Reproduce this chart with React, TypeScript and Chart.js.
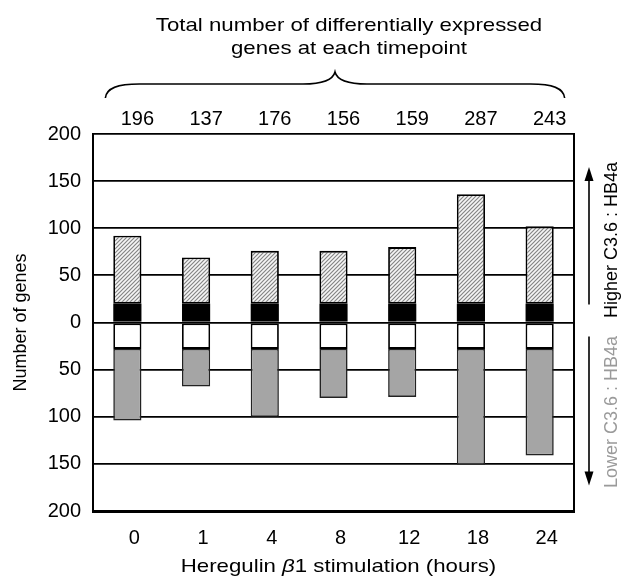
import React, { useEffect, useRef } from "react";
import { Chart, registerables } from "chart.js";

Chart.register(...registerables);

const categories = ["0", "1", "4", "8", "12", "18", "24"];
const totals = [196, 137, 176, 156, 159, 287, 243];
// genes higher in C3.6 (black base segment + hatched remainder)
const higherBlack = [20, 20, 20, 20, 20, 20, 20];
const higherTotal = [92, 69, 76, 76, 80, 136, 102];
// genes lower in C3.6 (white base segment + grey remainder)
const lowerWhite = [28, 28, 28, 28, 28, 28, 28];
const lowerTotal = [104, 68, 100, 80, 79, 151, 141];
const yTicks = [-200, -150, -100, -50, 0, 50, 100, 150, 200];

const FONT = '"Liberation Sans", Arial, Helvetica, sans-serif';

function makeHatch(): CanvasPattern | string {
  const s = 4;
  const c = document.createElement("canvas");
  c.width = s;
  c.height = s;
  const g = c.getContext("2d");
  if (!g) return "#ccc";
  g.fillStyle = "#f6f6f6";
  g.fillRect(0, 0, s, s);
  g.strokeStyle = "#858585";
  g.lineWidth = 1.2;
  g.beginPath();
  g.moveTo(-1, s + 1);
  g.lineTo(s + 1, -1);
  g.moveTo(-1, 1);
  g.lineTo(1, -1);
  g.moveTo(s - 1, s + 1);
  g.lineTo(s + 1, s - 1);
  g.stroke();
  const p = g.createPattern(c, "repeat");
  return p || "#ccc";
}

function stretchedText(
  ctx: CanvasRenderingContext2D,
  parts: { t: string; italic?: boolean }[],
  cx: number,
  baseline: number,
  size: number,
  sx: number
) {
  ctx.save();
  ctx.textBaseline = "alphabetic";
  ctx.textAlign = "left";
  const fontOf = (it?: boolean) => `${it ? "italic " : ""}${size}px ${FONT}`;
  let w = 0;
  for (const p of parts) {
    ctx.font = fontOf(p.italic);
    w += ctx.measureText(p.t).width;
  }
  ctx.translate(cx, baseline);
  ctx.scale(sx, 1);
  let x = -w / 2;
  for (const p of parts) {
    ctx.font = fontOf(p.italic);
    ctx.fillText(p.t, x, 0);
    x += ctx.measureText(p.t).width;
  }
  ctx.restore();
}

const overlay = {
  id: "overlay",
  afterDraw(chart: any) {
    const { ctx, chartArea: a, scales } = chart;
    const xs = scales.x;
    const ys = scales.y;
    ctx.save();
    ctx.fillStyle = "#000";
    ctx.strokeStyle = "#000";

    // right frame
    ctx.lineWidth = 2;
    ctx.beginPath();
    ctx.moveTo(a.right, a.top - 1);
    ctx.lineTo(a.right, a.bottom + 1);
    ctx.stroke();

    // totals
    ctx.font = `20px ${FONT}`;
    ctx.textAlign = "center";
    ctx.textBaseline = "alphabetic";
    totals.forEach((t, i) => {
      ctx.fillText(String(t), xs.getPixelForValue(i) + 10, 125);
    });

    // title
    ctx.fillStyle = "#000";
    stretchedText(ctx, [{ t: "Total number of differentially expressed" }], 349, 31, 19, 1.17);
    stretchedText(ctx, [{ t: "genes at each timepoint" }], 349, 54, 19, 1.17);

    // brace
    const L = xs.getPixelForValue(0) - 22;
    const R = xs.getPixelForValue(categories.length - 1) + 25;
    const M = (L + R) / 2;
    const yEnd = 98;
    const yFlat = 84;
    const yCusp = 72;
    ctx.lineWidth = 1.6;
    ctx.beginPath();
    ctx.moveTo(L, yEnd);
    ctx.bezierCurveTo(L + 1, yFlat + 4, L + 12, yFlat, L + 34, yFlat);
    ctx.lineTo(M - 32, yFlat);
    ctx.bezierCurveTo(M - 12, yFlat, M - 2, yFlat - 4, M, yCusp);
    ctx.bezierCurveTo(M + 2, yFlat - 4, M + 12, yFlat, M + 32, yFlat);
    ctx.lineTo(R - 34, yFlat);
    ctx.bezierCurveTo(R - 12, yFlat, R - 1, yFlat + 4, R, yEnd);
    ctx.stroke();

    // arrows
    const ax = a.right + 15;
    const y0 = ys.getPixelForValue(0);
    const upTip = ys.getPixelForValue(165);
    const downTip = ys.getPixelForValue(-173);
    ctx.lineWidth = 1.6;
    ctx.beginPath();
    ctx.moveTo(ax, y0 - 18);
    ctx.lineTo(ax, upTip + 10);
    ctx.moveTo(ax, y0 + 14);
    ctx.lineTo(ax, downTip - 10);
    ctx.stroke();
    ctx.beginPath();
    ctx.moveTo(ax, upTip);
    ctx.lineTo(ax - 4.5, upTip + 14);
    ctx.lineTo(ax + 4.5, upTip + 14);
    ctx.closePath();
    ctx.fill();
    ctx.beginPath();
    ctx.moveTo(ax, downTip);
    ctx.lineTo(ax - 4.5, downTip - 14);
    ctx.lineTo(ax + 4.5, downTip - 14);
    ctx.closePath();
    ctx.fill();

    // right rotated labels
    ctx.font = `18px ${FONT}`;
    ctx.textAlign = "center";
    ctx.textBaseline = "middle";
    ctx.save();
    ctx.translate(612, 240);
    ctx.rotate(-Math.PI / 2);
    ctx.fillStyle = "#000";
    ctx.fillText("Higher C3.6 : HB4a", 0, 0);
    ctx.restore();
    ctx.save();
    ctx.translate(612, 412);
    ctx.rotate(-Math.PI / 2);
    ctx.fillStyle = "#9a9a9a";
    ctx.fillText("Lower C3.6 : HB4a", 0, 0);
    ctx.restore();

    // y axis title
    ctx.save();
    ctx.translate(21, (a.top + a.bottom) / 2);
    ctx.rotate(-Math.PI / 2);
    ctx.fillStyle = "#000";
    ctx.font = `18px ${FONT}`;
    ctx.fillText("Number of genes", 0, 0);
    ctx.restore();

    // x axis title
    ctx.fillStyle = "#000";
    stretchedText(
      ctx,
      [{ t: "Heregulin " }, { t: "\u03B2", italic: true }, { t: "1 stimulation (hours)" }],
      (a.left + a.right) / 2 + 5,
      572,
      19,
      1.17
    );
    ctx.restore();
  },
};

export default function App() {
  const ref = useRef<HTMLCanvasElement | null>(null);
  useEffect(() => {
    if (!ref.current) return;
    const hatch = makeHatch();
    const higherHatched = higherTotal.map((v, i) => v - higherBlack[i]);
    const lowerGrey = lowerTotal.map((v, i) => -(v - lowerWhite[i]));
    const lowerBase = lowerWhite.map((v) => -v);
    const common = {
      borderSkipped: false as const,
      barPercentage: 0.41,
      categoryPercentage: 1,
    };
    const chart = new Chart(ref.current, {
      type: "bar",
      data: {
        labels: categories,
        datasets: [
          { label: "higher-base", data: higherBlack, backgroundColor: "#000", borderColor: "#000", borderWidth: 0, ...common },
          { label: "higher", data: higherHatched, backgroundColor: hatch as any, borderColor: "#000", borderWidth: 1.8, ...common },
          { label: "lower-base", data: lowerBase, backgroundColor: "#fff", borderColor: "#000", borderWidth: 1.8, ...common },
          { label: "lower", data: lowerGrey, backgroundColor: "#a5a5a5", borderColor: "#222", borderWidth: 1.6, ...common },
        ],
      },
      options: {
        responsive: false,
        animation: false,
        layout: { padding: { top: 134, right: 50, left: 0, bottom: 0 } },
        plugins: { legend: { display: false }, tooltip: { enabled: false }, title: { display: false } },
        scales: {
          x: {
            stacked: true,
            grid: { display: false },
            border: { display: true, color: "#000", width: 3 },
            ticks: { color: "#000", font: { family: FONT, size: 20 }, padding: 7, labelOffset: 7 },
            afterFit: (s: any) => {
              s.height = 66;
            },
          },
          y: {
            stacked: true,
            min: -200,
            max: 200,
            afterBuildTicks: (s: any) => {
              s.ticks = yTicks.map((v) => ({ value: v }));
            },
            grid: { color: "#000", lineWidth: 1.8, drawTicks: false },
            border: { display: true, color: "#000", width: 2 },
            ticks: {
              color: "#000",
              font: { family: FONT, size: 20 },
              padding: 12,
              callback: (v: any) => String(Math.abs(Number(v))),
            },
            afterFit: (s: any) => {
              s.width = 93;
            },
          },
        },
      },
      plugins: [overlay],
    });
    return () => chart.destroy();
  }, []);
  return (
    <div style={{ position: "absolute", left: 0, top: 0, width: 624, height: 577, background: "#fff" }}>
      <canvas ref={ref} width={624} height={577} />
    </div>
  );
}
